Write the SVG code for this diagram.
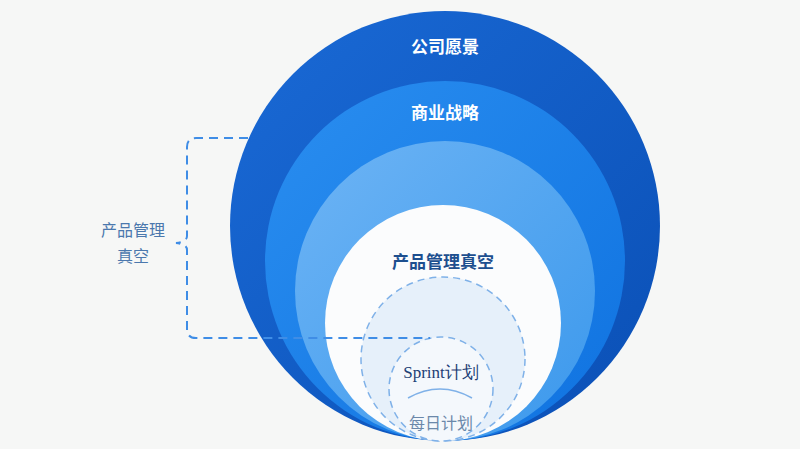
<svg xmlns="http://www.w3.org/2000/svg" width="800" height="449" viewBox="0 0 800 449">
<style>
.w{font-family:"Noto Sans CJK SC","Noto Sans",sans-serif;font-size:17px;font-weight:bold;fill:#fff;text-anchor:middle}
.d{stroke:#3f8de6;stroke-width:2;fill:none;stroke-dasharray:9 6}
</style>
<defs>
<linearGradient id="g1" x1="0" y1="0" x2="1" y2="1"><stop offset="0" stop-color="#1a6ad6"/><stop offset="1" stop-color="#0a4fb5"/></linearGradient>
<linearGradient id="g2" x1="0" y1="0" x2="1" y2="1"><stop offset="0" stop-color="#2a8ef0"/><stop offset="1" stop-color="#0f72e0"/></linearGradient>
<linearGradient id="g3" x1="0" y1="0" x2="1" y2="1"><stop offset="0" stop-color="#6db4f5"/><stop offset="1" stop-color="#3b98ec"/></linearGradient>
</defs>
<rect width="800" height="449" fill="#f6f7f6"/>
<g id="vision"><circle cx="445" cy="226" r="215" fill="url(#g1)"/><text class="w" x="445" y="53">公司愿景</text></g>
<g id="strategy"><circle cx="445" cy="261" r="180" fill="url(#g2)"/><text class="w" x="445" y="119">商业战略</text></g>
<g id="layer3"><circle cx="445" cy="291" r="150" fill="url(#g3)"/></g>
<g id="vacuum"><circle cx="443" cy="323" r="118" fill="#fbfcfd"/><text class="w" x="443" y="268" style="fill:#1d4f8f">产品管理真空</text></g>
<g id="sprint"><circle cx="443" cy="359" r="82" fill="#e6f0fa" stroke="#7fb1e8" stroke-width="1.5" stroke-dasharray="7 5"/>
<circle cx="441" cy="389" r="52" fill="#f4f8fc" stroke="#7fb1e8" stroke-width="1.5" stroke-dasharray="7 5"/>
<text x="441" y="378" font-family="Liberation Serif,serif" font-size="17" fill="#1d3f75" text-anchor="middle">Sprint计划</text></g>
<g id="daily"><path d="M408 398 Q440 380 472 398" stroke="#7fb1e8" stroke-width="1.5" fill="none"/>
<text x="441" y="429" font-family="Noto Sans CJK SC,sans-serif" font-size="16" fill="#6b88aa" text-anchor="middle">每日计划</text></g>
<g id="connectors"><path class="d" d="M248 138 H196 Q187 138 187 147 V236 Q187 242 176 243 Q187 244 187 250 V329 Q187 338 196 338 H430"/></g>
<g id="bracket-label" font-family="Noto Sans CJK SC,sans-serif" font-size="16" fill="#4b78ad" text-anchor="middle"><text x="133" y="236">产品管理</text><text x="133" y="262">真空</text></g>
</svg>
